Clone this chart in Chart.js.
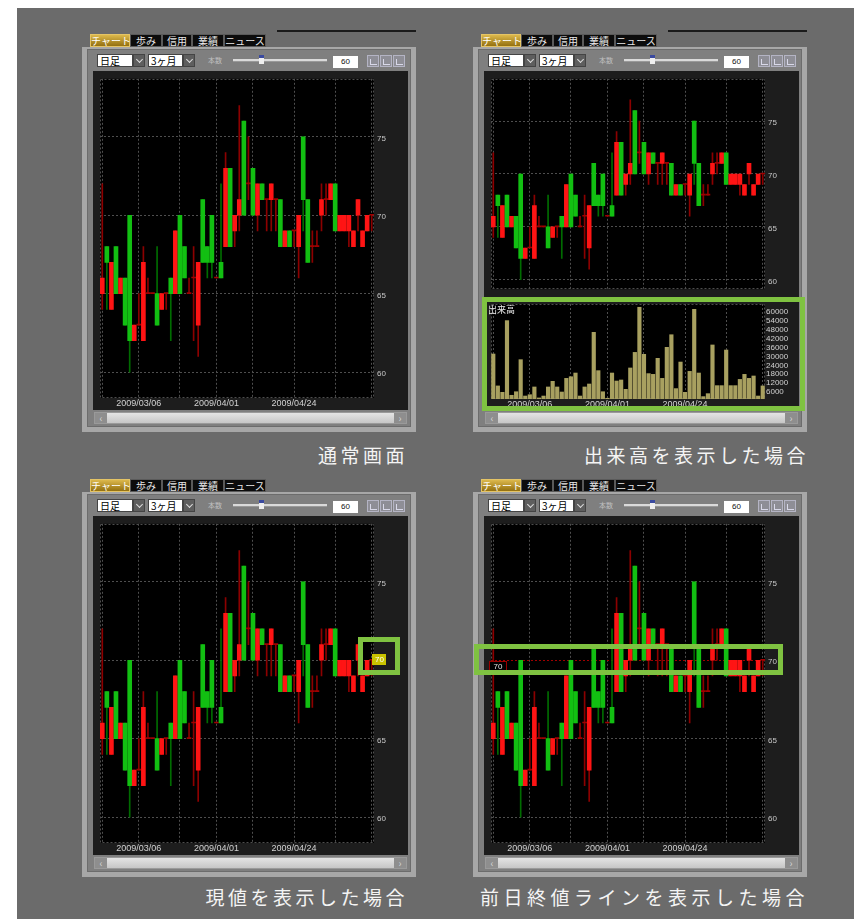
<!DOCTYPE html>
<html lang="ja">
<head>
<meta charset="utf-8">
<title>チャート表示例</title>
<script src="https://cdn.jsdelivr.net/npm/chart.js@4.4.1/dist/chart.umd.min.js"></script>
<style>
  html, body { margin: 0; padding: 0; }
  body { width: 854px; height: 919px; position: relative; overflow: hidden; background: #fff; font-family: 'Noto Sans CJK JP', sans-serif; }
  #bg { position: absolute; left: 17px; top: 8px; right: 0; bottom: 0; background: #6b6b6b; }
  .win { position: absolute; width: 334px; height: 401px; }
  .win div { position: absolute; box-sizing: border-box; }
  .topline { left: 195px; top: -1px; width: 139px; height: 2px; background: #1a1a1a; }
  .tab { top: 3px; height: 13px; background: #0c0c0c; border: 1px solid #5a5a5a; color: #e8e8e8; font-size: 10px; line-height: 11px; text-align: center; white-space: nowrap; }
  .tab.on { background: linear-gradient(#dcb84c, #94700f); border-color: #e4c466; color: #fff; }
  .frame { left: 0; top: 16px; width: 334px; height: 385px; background: #a7a7a7; }
  .inner { left: 5px; top: 18px; width: 324px; height: 378px; background: #7f7f7f; border: 1px solid #6c6c6c; }
  .sel { top: 23px; height: 13px; background: #fff; border: 1px solid #444; color: #000; font-size: 10px; line-height: 11px; padding-left: 2px; white-space: nowrap; }
  .btn { top: 23px; width: 12px; height: 13px; background: #5e5e5e; border: 1px solid #444; }
  .btn::after { content: ''; position: absolute; left: 3px; top: 2px; width: 4px; height: 4px; border-right: 1.5px solid #ddd; border-bottom: 1.5px solid #ddd; transform: rotate(45deg); }
  .lbl { left: 126px; top: 24px; font-size: 7px; line-height: 10px; color: #c0c0c0; }
  .track { left: 151px; top: 28px; width: 94px; height: 3px; background: #dadada; border-bottom: 1px solid #999; }
  .thumb { left: 177px; top: 24px; width: 5px; height: 9px; background: #eee; border-top: 3px solid #3a4aa0; }
  .num { left: 251px; top: 25px; width: 25px; height: 12px; background: #fff; font-size: 8px; line-height: 12px; text-align: center; color: #111; font-family: 'Liberation Sans', sans-serif; }
  .ico { top: 24px; width: 12px; height: 12px; border: 1px solid #b4b4c4; background: #8e8e96; }
  .ico::after { content: ''; position: absolute; left: 2px; top: 3px; width: 6px; height: 5px; border-left: 1px solid #d8d8e8; border-bottom: 1px solid #d8d8e8; }
  .chartbox { left: 11px; top: 40px; width: 315px; height: 339px; background: #1d1d1d; }
  .chartbox canvas { position: absolute; left: 0; }
  .scroll { left: 12px; top: 381px; width: 313px; height: 12px; background: linear-gradient(#e4e4e4, #c6c6c6); border: 1px solid #9a9a9a; }
  .sb { top: 0; width: 12px; height: 10px; background: #8e8e8e; color: #d4d4d4; font-size: 10px; line-height: 9px; text-align: center; }
  .hl { position: absolute; border: 5px solid #7fc241; box-sizing: border-box; }
  .cap { position: absolute; color: #f4f4f4; font-size: 19px; letter-spacing: 3.5px; line-height: 22px; white-space: nowrap; }
</style>
</head>
<body>
<div id="bg"></div>

<div class="cap" style="right:446px;top:444px">通常画面</div>
<div class="cap" style="right:45px;top:444px">出来高を表示した場合</div>
<div class="cap" style="right:446px;top:886px">現値を表示した場合</div>
<div class="cap" style="right:45px;top:886px;letter-spacing:4.5px">前日終値ラインを表示した場合</div>

<script>
// 日足 60本 (2009/02/24 - 2009/05/25)
const dates = [
  '2009/02/24', '2009/02/25', '2009/02/26', '2009/02/27', '2009/03/02', '2009/03/03', '2009/03/04', '2009/03/05', '2009/03/06', '2009/03/09',
  '2009/03/10', '2009/03/11', '2009/03/12', '2009/03/13', '2009/03/16', '2009/03/17', '2009/03/18', '2009/03/19', '2009/03/23', '2009/03/24',
  '2009/03/25', '2009/03/26', '2009/03/27', '2009/03/30', '2009/03/31', '2009/04/01', '2009/04/02', '2009/04/03', '2009/04/06', '2009/04/07',
  '2009/04/08', '2009/04/09', '2009/04/10', '2009/04/13', '2009/04/14', '2009/04/15', '2009/04/16', '2009/04/17', '2009/04/20', '2009/04/21',
  '2009/04/22', '2009/04/23', '2009/04/24', '2009/04/27', '2009/04/28', '2009/04/30', '2009/05/01', '2009/05/07', '2009/05/08', '2009/05/11',
  '2009/05/12', '2009/05/13', '2009/05/14', '2009/05/15', '2009/05/18', '2009/05/19', '2009/05/20', '2009/05/21', '2009/05/22', '2009/05/25'
];
const opens = [
  65, 68, 64, 68, 65, 66, 70, 62, 63, 62,
  65, 65, 65, 64, 65, 66, 65, 70, 68, 65,
  66, 63, 71, 68, 70, 66, 67, 68, 73, 69,
  70, 76, 72, 73, 70, 72, 71, 71, 71, 71,
  68, 69, 69, 68, 75, 71, 68, 68, 70, 71,
  71, 72, 69, 69, 69, 68, 70, 68, 69, 70
];
const highs = [
  72, 68, 67, 68, 66, 66, 70, 63, 65, 68,
  66, 65, 68, 65, 65, 66, 69, 70, 68, 66,
  68, 67, 71, 68, 70, 66, 72, 74, 73, 70,
  77, 76, 75, 73, 72, 72, 71, 72, 71, 71,
  69, 69, 69, 70, 75, 71, 69, 69, 72, 72,
  72, 72, 70, 70, 70, 69, 71, 69, 70, 70
];
const lows = [
  64, 64, 64, 65, 65, 63, 60, 62, 63, 62,
  65, 65, 63, 64, 64, 62, 65, 65, 66, 65,
  62, 61, 67, 66, 66, 66, 66, 68, 68, 68,
  69, 70, 71, 70, 69, 71, 69, 69, 69, 68,
  68, 68, 68, 66, 69, 67, 67, 68, 69, 70,
  71, 69, 69, 69, 68, 68, 69, 68, 69, 69
];
const closes = [
  66, 67, 67, 65, 66, 63, 62, 63, 63, 67,
  65, 65, 63, 65, 65, 65, 69, 65, 66, 65,
  66, 67, 67, 67, 67, 66, 66, 73, 68, 70,
  71, 70, 72, 70, 72, 71, 71, 72, 71, 68,
  69, 68, 69, 70, 71, 67, 68, 68, 71, 71,
  72, 69, 70, 70, 70, 69, 71, 69, 70, 70
];
const volumes = [
  30300, 8800, 4500, 52800, 2500, 4900, 26500, 2000, 2900, 8100,
  700, 2000, 8100, 11900, 8100, 4700, 13900, 15000, 17500, 2000,
  8100, 10100, 44900, 19100, 4900, 500, 17500, 12100, 12800, 6500,
  20900, 31400, 61800, 30100, 17100, 16600, 27400, 13900, 34800, 43300,
  7000, 24900, 4500, 18600, 60400, 17500, 1600, 3600, 36400, 9000,
  9000, 33000, 9000, 9000, 13200, 16600, 13900, 15500, 2000, 8800
];
const labelDates = ['2009/03/06', '2009/04/01', '2009/04/24'];
const gridDates = ['2009/02/24', '2009/03/06', '2009/03/19', '2009/04/01', '2009/04/13', '2009/04/24', '2009/05/13', '2009/05/25'];
const priceTicks = [60, 65, 70, 75];
const volumeTicks = [6000, 12000, 18000, 24000, 30000, 36000, 42000, 48000, 54000, 60000];

const gridColor = '#4e4e4e';
const axisFont = { family: 'Liberation Sans', size: 8 };
const dateFont = { family: 'Liberation Sans', size: 9 };

function bodyColor(i) {
  if (closes[i] > opens[i]) return '#ff1414';
  if (closes[i] < opens[i]) return '#12bf12';
  return '#a00000';
}

function wickColor(i) {
  return closes[i] < opens[i] ? '#006c00' : '#8c0000';
}

// black plot area with a dotted frame
const plotArea = {
  id: 'plotArea',
  beforeDraw(chart) {
    const { ctx, chartArea: a } = chart;
    ctx.save();
    ctx.fillStyle = '#000';
    ctx.fillRect(a.left, a.top, a.width, a.height);
    ctx.restore();
  },
  beforeDatasetsDraw(chart) {
    const { ctx, chartArea: a } = chart;
    ctx.save();
    ctx.strokeStyle = gridColor;
    ctx.setLineDash([2, 2]);
    ctx.strokeRect(Math.round(a.left) + 0.5, Math.round(a.top) + 0.5, Math.round(a.width) - 1, Math.round(a.height) - 1);
    ctx.restore();
  }
};

// 現値 marker on the price axis
const lastPriceTag = {
  id: 'lastPriceTag',
  afterDraw(chart) {
    const { ctx, chartArea: a, scales: { y } } = chart;
    const last = closes[closes.length - 1];
    const py = Math.round(y.getPixelForValue(last));
    ctx.save();
    ctx.fillStyle = '#c9c300';
    ctx.fillRect(a.right - 2, py - 6, 14, 11);
    ctx.fillStyle = '#fff';
    ctx.font = '8px "Liberation Sans"';
    ctx.textBaseline = 'middle';
    ctx.fillText(String(last), a.right + 1, py);
    ctx.restore();
  }
};

// 前日終値 line
const prevCloseLine = {
  id: 'prevCloseLine',
  beforeDatasetsDraw(chart) {
    const { ctx, chartArea: a, scales: { y } } = chart;
    const py = Math.round(y.getPixelForValue(closes[closes.length - 2])) + 0.5;
    ctx.save();
    ctx.strokeStyle = '#a00000';
    ctx.setLineDash([2, 2]);
    ctx.beginPath();
    ctx.moveTo(a.left, py);
    ctx.lineTo(a.right, py);
    ctx.stroke();
    ctx.restore();
  },
  afterDraw(chart) {
    const { ctx, chartArea: a, scales: { y } } = chart;
    const prev = closes[closes.length - 2];
    const py = Math.round(y.getPixelForValue(prev));
    ctx.save();
    ctx.fillStyle = '#000';
    ctx.fillRect(a.left - 2, py + 1, 18, 11);
    ctx.strokeStyle = '#9a0000';
    ctx.strokeRect(a.left - 1.5, py + 1.5, 17, 10);
    ctx.fillStyle = '#e0e0e0';
    ctx.font = '8px "Liberation Sans"';
    ctx.textAlign = 'center';
    ctx.textBaseline = 'middle';
    ctx.fillText(String(prev), a.left + 7, py + 7);
    ctx.restore();
  }
};

const volumeTitle = {
  id: 'volumeTitle',
  afterDraw(chart) {
    const { ctx, chartArea: a } = chart;
    ctx.save();
    ctx.fillStyle = '#e8e8e8';
    ctx.font = '9px "Noto Sans CJK JP"';
    ctx.textBaseline = 'top';
    ctx.fillText('出来高', a.left - 3, a.top + 1);
    ctx.restore();
  }
};

function fixedTicks(values) {
  return s => { s.ticks = values.map(v => ({ value: v })); };
}

function xAxis(showDates, height) {
  return {
    offset: true,
    grid: {
      offset: false,
      drawTicks: false,
      color: ctx => gridDates.includes(dates[ctx.index]) ? gridColor : 'transparent'
    },
    border: { display: false, dash: [2, 2] },
    ticks: {
      display: showDates,
      autoSkip: false,
      maxRotation: 0,
      padding: 0,
      color: '#d2d2d2',
      font: dateFont,
      callback: (v, i) => labelDates.includes(dates[i]) ? dates[i] : ''
    },
    afterFit(s) { s.height = height; }
  };
}

function priceChart(canvas, opt) {
  return new Chart(canvas, {
    type: 'bar',
    data: {
      labels: dates,
      datasets: [
        {
          data: dates.map((d, i) => [opens[i], closes[i]]),
          backgroundColor: dates.map((d, i) => bodyColor(i)),
          barThickness: 4,
          minBarLength: 1,
          grouped: false,
          order: 1
        },
        {
          data: dates.map((d, i) => [lows[i], highs[i]]),
          backgroundColor: dates.map((d, i) => wickColor(i)),
          barThickness: 1,
          grouped: false,
          order: 2
        }
      ]
    },
    options: {
      responsive: false,
      animation: false,
      events: [],
      layout: { padding: { left: 7, top: 4, right: 0, bottom: 0 } },
      plugins: { legend: { display: false }, tooltip: { enabled: false } },
      scales: {
        x: xAxis(opt.showDates, opt.xHeight),
        y: {
          position: 'right',
          min: opt.min,
          max: opt.max,
          afterBuildTicks: fixedTicks(priceTicks),
          grid: { color: gridColor, drawTicks: false },
          border: { display: false, dash: [2, 2] },
          ticks: { autoSkip: false, padding: 3, labelOffset: 2, color: '#c8c8c8', font: axisFont },
          afterFit(s) { s.width = 34; }
        }
      }
    },
    plugins: [plotArea].concat(opt.extra || [])
  });
}

function volumeChart(canvas) {
  return new Chart(canvas, {
    type: 'bar',
    data: {
      labels: dates,
      datasets: [{ data: volumes.slice(), backgroundColor: '#a8a060', barThickness: 3.5 }]
    },
    options: {
      responsive: false,
      animation: false,
      events: [],
      layout: { padding: { left: 7, top: 7, right: 0, bottom: 0 } },
      plugins: { legend: { display: false }, tooltip: { enabled: false } },
      scales: {
        x: xAxis(true, 11),
        y: {
          position: 'right',
          min: 0,
          max: 64000,
          afterBuildTicks: fixedTicks(volumeTicks),
          grid: { display: false, drawTicks: false },
          border: { display: false },
          ticks: {
            autoSkip: false,
            padding: 1,
            labelOffset: 2,
            color: '#d0d0d0',
            font: axisFont,
            callback: v => String(v)
          },
          afterFit(s) { s.width = 34; }
        }
      }
    },
    plugins: [plotArea, volumeTitle]
  });
}

function buildWindow(left, top, withTopLine) {
  const w = document.createElement('div');
  w.className = 'win';
  w.style.left = left + 'px';
  w.style.top = top + 'px';
  w.innerHTML = `
    ${withTopLine ? '<div class="topline"></div>' : ''}
    <div class="frame"></div>
    <div class="inner"></div>
    <div class="tab on" style="left:8px;width:40px">チャート</div>
    <div class="tab" style="left:48px;width:32px">歩み</div>
    <div class="tab" style="left:80px;width:30px">信用</div>
    <div class="tab" style="left:110px;width:32px">業績</div>
    <div class="tab" style="left:142px;width:42px">ニュース</div>
    <div class="sel" style="left:15px;width:36px">日足</div>
    <div class="btn" style="left:51px"></div>
    <div class="sel" style="left:66px;width:35px">3ヶ月</div>
    <div class="btn" style="left:101px"></div>
    <div class="lbl">本数</div>
    <div class="track"></div>
    <div class="thumb"></div>
    <div class="num">60</div>
    <div class="ico" style="left:285px"></div>
    <div class="ico" style="left:298px"></div>
    <div class="ico" style="left:311px"></div>
    <div class="chartbox"></div>
    <div class="scroll"><div class="sb" style="left:0">‹</div><div class="sb" style="right:0">›</div></div>`;
  document.body.appendChild(w);
  return w.querySelector('.chartbox');
}

function addCanvas(box, top, height) {
  const c = document.createElement('canvas');
  c.width = 315;
  c.height = height;
  c.style.width = '315px';
  c.style.height = height + 'px';
  c.style.top = top + 'px';
  box.appendChild(c);
  return c;
}

function highlight(left, top, width, height) {
  const d = document.createElement('div');
  d.className = 'hl';
  Object.assign(d.style, { left: left + 'px', top: top + 'px', width: width + 'px', height: height + 'px' });
  document.body.appendChild(d);
}

// 通常画面
const boxTL = buildWindow(82, 31, true);
priceChart(addCanvas(boxTL, 0, 339), { min: 58.35, max: 78.7, showDates: true, xHeight: 12 });

// 出来高を表示した場合
const boxTR = buildWindow(473, 31, true);
priceChart(addCanvas(boxTR, 0, 226), { min: 59.1, max: 79.0, showDates: false, xHeight: 4 });
volumeChart(addCanvas(boxTR, 226, 113));

// 現値を表示した場合
const boxBL = buildWindow(82, 476, false);
priceChart(addCanvas(boxBL, 0, 339), { min: 58.35, max: 78.7, showDates: true, xHeight: 12, extra: [lastPriceTag] });

// 前日終値ラインを表示した場合
const boxBR = buildWindow(473, 476, false);
priceChart(addCanvas(boxBR, 0, 339), { min: 58.35, max: 78.7, showDates: true, xHeight: 12, extra: [prevCloseLine] });

highlight(482, 297, 323, 114);
highlight(358, 637, 42, 38);
highlight(474, 644, 309, 31);
</script>
</body>
</html>
